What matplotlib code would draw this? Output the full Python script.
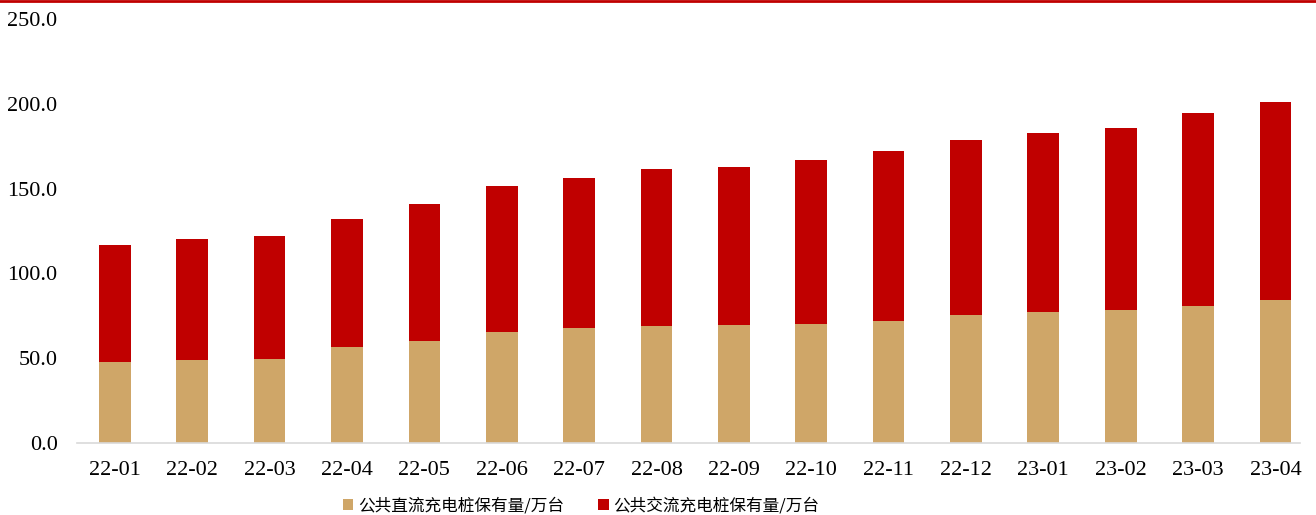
import matplotlib.pyplot as plt
from matplotlib.lines import Line2D
import numpy as np

months = ['22-01', '22-02', '22-03', '22-04', '22-05', '22-06', '22-07', '22-08',
          '22-09', '22-10', '22-11', '22-12', '23-01', '23-02', '23-03', '23-04']
dc_piles = [48.0, 48.8, 49.4, 56.8, 60.2, 65.5, 67.6, 69.2,
            69.6, 70.0, 72.0, 75.3, 77.0, 78.4, 81.0, 84.1]
ac_piles = [68.8, 71.7, 72.7, 75.4, 80.8, 85.9, 88.9, 92.2,
            93.0, 96.8, 100.2, 103.3, 105.7, 107.3, 113.7, 117.1]
yticks = [0, 50, 100, 150, 200, 250]

dc_label = '公共直流充电桩保有量/万台'
ac_label = '公共交流充电桩保有量/万台'

fig = plt.figure(figsize=(13.16, 5.15), dpi=100)
ax = fig.add_axes([0.0585, 0.14, 0.9295, 0.823])

x = np.arange(len(months))
ax.bar(x, dc_piles, width=0.41, color='#CFA668', label=dc_label)
ax.bar(x, ac_piles, width=0.41, bottom=dc_piles, color='#C00000', label=ac_label)

ax.set_xlim(-0.49, 15.32)
ax.set_ylim(0, 250)
ax.set_yticks(yticks)
ax.set_yticklabels([f'{v:.1f}' for v in yticks], fontfamily='Liberation Serif', fontsize=16)
ax.set_xticks(x)
ax.set_xticklabels(months, fontfamily='Liberation Serif', fontsize=16)
ax.tick_params(axis='y', length=0, pad=14)
ax.tick_params(axis='x', length=0, pad=13)

for side in ['top', 'right', 'left']:
    ax.spines[side].set_visible(False)
ax.spines['bottom'].set_color('#D9D9D9')
ax.spines['bottom'].set_linewidth(1.2)

fig.legend(loc='center', bbox_to_anchor=(0.4415, 0.018), ncol=2, frameon=False,
           prop={'family': ['Noto Sans CJK SC', 'DejaVu Sans'], 'size': 12},
           handlelength=0.65, handleheight=0.65, handletextpad=0.3, columnspacing=2.0)

# thin red rule across the top edge
fig.add_artist(Line2D([0, 1], [0.998, 0.998], transform=fig.transFigure,
                      color='#C00000', linewidth=2))

fig.savefig('out.png', dpi=100)
